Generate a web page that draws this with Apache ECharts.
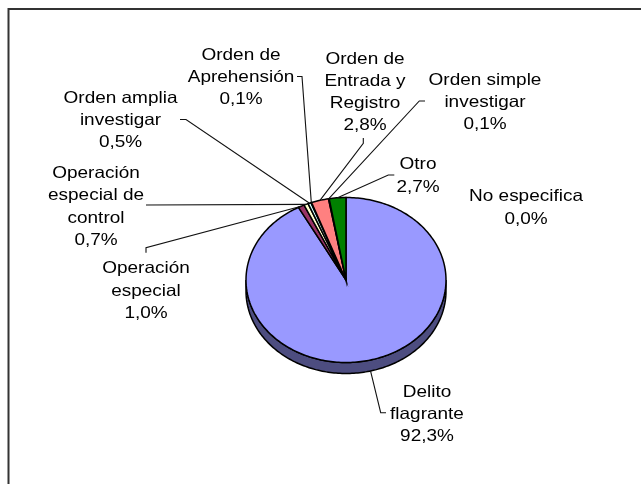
<!DOCTYPE html>
<html>
<head>
<meta charset="utf-8">
<style>html,body{margin:0;padding:0;background:#fff}#c{width:641px;height:484px}</style>
<script src="https://cdn.jsdelivr.net/npm/echarts@6/dist/echarts.min.js"></script>
</head>
<body>
<div id="c"></div>
<script>
const categories = ["Delito\nflagrante","Operación\nespecial","Operación\nespecial de\ncontrol","Orden amplia\ninvestigar","Orden de\nAprehensión","Orden de\nEntrada y\nRegistro","Orden simple\ninvestigar","Otro","No especifica"];
const values = [92.3,1.0,0.7,0.5,0.1,2.8,0.1,2.7,0.0];
const colors = ["#9999FF","#993366","#FFFFCC","#CCFFFF","#660066","#FF8080","#0066CC","#008000","#CCCCFF"];
const labelCenters = [[427,414.5],[146,291],[96,207],[120.5,120.5],[241,77.5],[365,92.5],[485,102.5],[418,176],[526,208]];
const leaderBends = [[[386,412.7],[380.7,412.7]],[[146,252.7],[146,247.7]],[[146,205]],[[180,119.5],[186,119.5]],[[297,76.5],[302,76.5]],[[363.3,138],[363.3,143.3]],[[425,101],[419.3,101]],[[394.3,175],[388.3,175]],[]];

const cx = 346, cy = 280, rx = 100, ry = 82.5, depth = 11;
const total = values.reduce((a,b)=>a+b,0);
const starts = []; values.reduce((a,v,i)=>(starts[i]=a,a+v),0);
const pt = (t,dy=0)=>[cx+rx*Math.sin(t), cy+dy-ry*Math.cos(t)];
const arc = (a,b,dy=0)=>{const n=Math.max(2,Math.ceil((b-a)/0.02));const r=[];for(let i=0;i<=n;i++)r.push(pt(a+(b-a)*i/n,dy));return r;};
const stroke = {stroke:'#000',lineWidth:1.5};

function renderItem(params, api){
  const i = params.dataIndex, v = api.value(0);
  const a = starts[i]/total*2*Math.PI, b = a+v/total*2*Math.PI, mid=(a+b)/2;
  const children = [];
  const sa = Math.max(a,Math.PI/2), sb = Math.min(b,Math.PI*1.5);
  if (sb>sa){
    const top = arc(sa,sb), bot = arc(sa,sb,depth).reverse();
    children.push({type:'polygon',shape:{points:top.concat(bot)},style:Object.assign({fill:'#4D4D80'},stroke)});
  }
  if (v>0){
    children.push({type:'polygon',shape:{points:[[cx,cy]].concat(arc(a,b))},style:Object.assign({fill:colors[i]},stroke)});
  }
  const bends = leaderBends[i];
  if (bends.length){
    const inLower = mid>Math.PI/2 && mid<Math.PI*1.5;
    children.push({type:'polyline',shape:{points:bends.concat([pt(mid,inLower?depth:0)])},style:{fill:null,stroke:'#111',lineWidth:1.1},z2:5});
  }
  const text = categories[i]+"\n"+v.toFixed(1).replace('.',',')+"%";
  children.push({type:'text',x:labelCenters[i][0],y:labelCenters[i][1],scaleX:1.15,z2:6,
    style:{text,x:0,y:0,align:'center',verticalAlign:'middle',fontFamily:'"Liberation Sans",Arial,sans-serif',fontSize:16.5,lineHeight:22.3,fill:'#000'}});
  return {type:'group',children};
}

const chart = echarts.init(document.getElementById('c'),null,{renderer:'canvas'});
chart.setOption({
  animation:false,
  backgroundColor:'#fff',
  graphic:[{type:'rect',shape:{x:8.5,y:9,width:700,height:600},style:{fill:null,stroke:'#333',lineWidth:2},z:-1,silent:true}],
  series:[{type:'custom',coordinateSystem:'none',silent:true,data:values.map(v=>[v]),renderItem,clip:false}]
});
</script>
</body>
</html>
